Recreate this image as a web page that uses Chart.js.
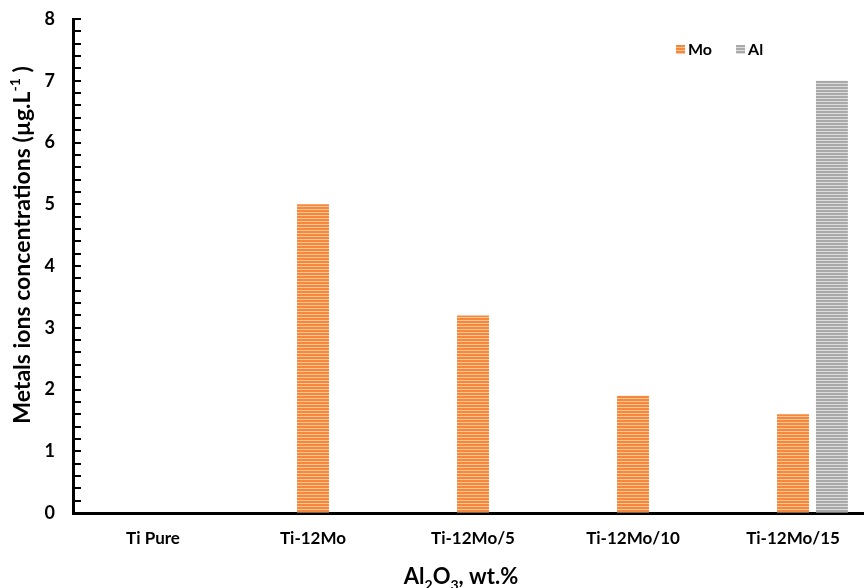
<!DOCTYPE html>
<html>
<head>
<meta charset="utf-8">
<script src="https://cdn.jsdelivr.net/npm/chart.js@4/dist/chart.umd.min.js"></script>
<style>
  html, body { margin: 0; padding: 0; background: #fff; }
  #clip { width: 864px; height: 588px; overflow: hidden; }
  #wrap { width: 874px; height: 588px; }
</style>
</head>
<body>
<div id="clip"><div id="wrap"><canvas id="ionsChart"></canvas></div></div>
<script>
// Data
const categories = ['Ti Pure', 'Ti-12Mo', 'Ti-12Mo/5', 'Ti-12Mo/10', 'Ti-12Mo/15'];
const moValues = [0, 5, 3.2, 1.9, 1.6];
const alValues = [0, 0, 0, 0, 7];
const spacerValues = [null, null, null, null, null]; // empty slot left of Mo (Excel layout)
const yTickMin = 0;
const yTickMax = 8;

const FONT = 'Lato, "Open Sans", sans-serif';

// horizontal stripe fill like the Excel pattern
function stripes(dark, light) {
    const c = document.createElement('canvas');
    c.width = 4; c.height = 3;
    const g = c.getContext('2d');
    g.fillStyle = dark; g.fillRect(0, 0, 4, 2);
    g.fillStyle = light; g.fillRect(0, 2, 4, 1);
    return g.createPattern(c, 'repeat');
}
const moFill = stripes('#f6883a', '#fbc49a');
const alFill = stripes('#a9a9a9', '#dcdcdc');

// draws text pieces with sub/superscripts, centred on (0,0)
function drawRich(ctx, parts, size) {
    const widths = parts.map(p => {
        ctx.font = 'bold ' + Math.round(size * (p.s || 1)) + 'px ' + FONT;
        return ctx.measureText(p.t).width;
    });
    let x = -widths.reduce((a, b) => a + b, 0) / 2;
    parts.forEach((p, i) => {
        ctx.font = 'bold ' + Math.round(size * (p.s || 1)) + 'px ' + FONT;
        ctx.fillText(p.t, x, (p.dy || 0) * size);
        x += widths[i];
    });
}

const decorations = {
    id: 'decorations',
    afterDraw(chart) {
        const ctx = chart.ctx;
        const y = chart.scales.y;
        const area = chart.chartArea;
        ctx.save();
        // inward tick marks every 0.2
        ctx.strokeStyle = '#000';
        ctx.lineWidth = 2;
        y.ticks.forEach(t => {
            const py = Math.round(y.getPixelForValue(t.value));
            ctx.beginPath();
            ctx.moveTo(area.left, py);
            ctx.lineTo(area.left + 8, py);
            ctx.stroke();
        });
        ctx.fillStyle = '#000';
        ctx.textBaseline = 'alphabetic';
        // y title
        ctx.save();
        ctx.translate(30, 245);
        ctx.rotate(-Math.PI / 2);
        drawRich(ctx, [
            { t: 'Metals ions concentrations (µg.L' },
            { t: '-1', s: 0.62, dy: -0.42 },
            { t: ' )' }
        ], 23);
        ctx.restore();
        // x title
        ctx.save();
        ctx.translate(461, 584);
        drawRich(ctx, [
            { t: 'Al' }, { t: '2', s: 0.62, dy: 0.25 },
            { t: 'O' }, { t: '3', s: 0.62, dy: 0.25 },
            { t: ', wt.%' }
        ], 22);
        ctx.restore();
        // legend
        ctx.font = 'bold 16px ' + FONT;
        ctx.textBaseline = 'middle';
        let lx = 676;
        chart.data.datasets.forEach(ds => {
            if (!ds.label) return;
            ctx.fillStyle = ds.backgroundColor;
            ctx.fillRect(lx, 45, 9, 9);
            ctx.fillStyle = '#000';
            ctx.fillText(ds.label, lx + 12, 50);
            lx += 12 + ctx.measureText(ds.label).width + 24;
        });
        ctx.restore();
    }
};

new Chart(document.getElementById('ionsChart'), {
    type: 'bar',
    data: {
        labels: categories,
        datasets: [
            { label: '', data: spacerValues, backgroundColor: 'rgba(0,0,0,0)' },
            { label: 'Mo', data: moValues, backgroundColor: moFill },
            { label: 'Al', data: alValues, backgroundColor: alFill }
        ]
    },
    options: {
        responsive: true,
        maintainAspectRatio: false,
        animation: false,
        categoryPercentage: 0.73,
        barPercentage: 0.82,
        layout: { padding: { top: 19, right: 1, left: 0, bottom: 0 } },
        plugins: {
            legend: { display: false },
            tooltip: { enabled: false }
        },
        scales: {
            x: {
                grid: { display: true, drawOnChartArea: false, drawTicks: false },
                border: { color: '#000', width: 3 },
                ticks: { color: '#000', padding: 15, maxRotation: 0, font: { family: FONT, size: 17, weight: 'bold' } },
                afterFit: s => { s.height = 75; }
            },
            y: {
                min: yTickMin,
                max: yTickMax,
                grid: { display: true, drawOnChartArea: false, drawTicks: false },
                border: { color: '#000', width: 3 },
                ticks: {
                    stepSize: 0.2,
                    autoSkip: false,
                    color: '#000',
                    padding: 18,
                    font: { family: FONT, size: 18, weight: 'bold' },
                    callback: v => Math.abs(v - Math.round(v)) < 1e-6 ? Math.round(v) : ''
                },
                afterFit: s => { s.width = 73; s.paddingTop = 0; s.paddingBottom = 0; }
            }
        }
    },
    plugins: [decorations]
});
</script>
</body>
</html>
